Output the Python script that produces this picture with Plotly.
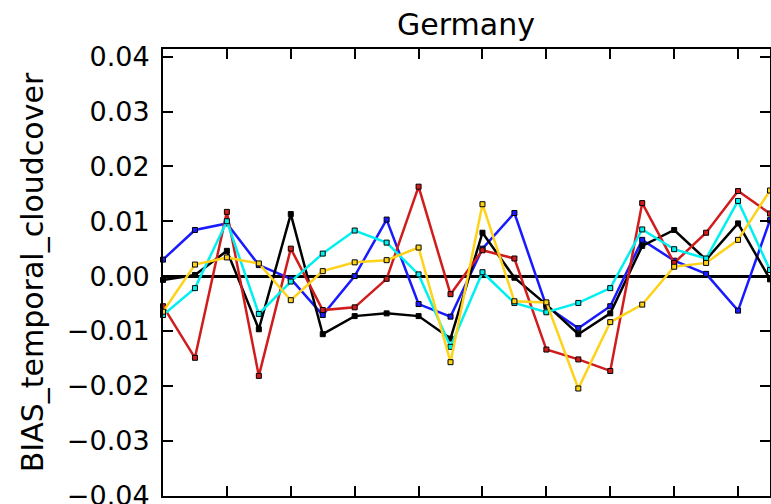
import plotly.graph_objects as go

# Time-step index along the x axis
steps = list(range(20))

# Bias of temporal cloud cover per run
bias_blue = [0.0030, 0.0084, 0.0096, 0.0020, -0.0005, -0.0071, 0.0000, 0.0103, -0.0051, -0.0074,
             0.0050, 0.0115, -0.0055, -0.0095, -0.0055, 0.0066, 0.0028, 0.0004, -0.0063, 0.0102]
bias_black = [-0.0007, 0.0002, 0.0046, -0.0097, 0.0113, -0.0106, -0.0073, -0.0068, -0.0073, -0.0114,
              0.0079, -0.0003, -0.0052, -0.0106, -0.0068, 0.0055, 0.0084, 0.0030, 0.0096, -0.0006]
bias_red = [-0.0055, -0.0149, 0.0117, -0.0182, 0.0050, -0.0062, -0.0057, -0.0005, 0.0163, -0.0033,
            0.0047, 0.0032, -0.0134, -0.0152, -0.0173, 0.0133, 0.0024, 0.0079, 0.0155, 0.0114]
bias_cyan = [-0.0071, -0.0022, 0.0100, -0.0069, -0.0010, 0.0041, 0.0083, 0.0061, 0.0003, -0.0129,
             0.0007, -0.0049, -0.0066, -0.0049, -0.0022, 0.0085, 0.0049, 0.0032, 0.0137, 0.0011]
bias_yellow = [-0.0065, 0.0021, 0.0034, 0.0023, -0.0044, 0.0009, 0.0025, 0.0029, 0.0052, -0.0157,
               0.0131, -0.0046, -0.0048, -0.0205, -0.0084, -0.0052, 0.0017, 0.0024, 0.0066, 0.0156]

series = [
    (bias_blue, "#1a1aff"),
    (bias_black, "#000000"),
    (bias_red, "#d01c1c"),
    (bias_cyan, "#00f0f0"),
    (bias_yellow, "#ffd21a"),
]

y_ticks = [-0.04, -0.03, -0.02, -0.01, 0.0, 0.01, 0.02, 0.03, 0.04]
y_tick_text = ["\u22120.04", "\u22120.03", "\u22120.02", "\u22120.01", "0.00",
               "0.01", "0.02", "0.03", "0.04"]

fig = go.Figure()
for values, color in series:
    fig.add_trace(go.Scatter(
        x=steps, y=values, mode="lines+markers",
        line=dict(color=color, width=2.5),
        marker=dict(symbol="square", size=5, color=color,
                    line=dict(color="#000000", width=1)),
        cliponaxis=False, showlegend=False,
    ))

fig.update_layout(
    width=771, height=504,
    margin=dict(l=163, r=1, t=49, b=8, autoexpand=False),
    paper_bgcolor="white", plot_bgcolor="white",
    font=dict(family="DejaVu Sans", color="#000000"),
    title=dict(text="Germany", x=0.6045, xanchor="center", y=0.952, yanchor="middle",
               font=dict(size=30, family="DejaVu Sans")),
)
fig.update_xaxes(
    range=[0, 19], tickvals=list(range(0, 20, 2)), showticklabels=False,
    ticks="inside", ticklen=10, tickwidth=1.5, tickcolor="#000000",
    showline=True, linecolor="#000000", linewidth=2, mirror="ticks",
    showgrid=False, zeroline=False, automargin=False,
)
fig.update_yaxes(
    range=[-0.0401, 0.0414], tickvals=y_ticks, ticktext=y_tick_text,
    ticks="inside", ticklen=10, tickwidth=1.5, tickcolor="#000000",
    tickfont=dict(size=27, family="DejaVu Sans"), ticklabelstandoff=6,
    ticklabeloverflow="allow", automargin=False,
    showline=True, linecolor="#000000", linewidth=2, mirror="ticks",
    showgrid=False, zeroline=True, zerolinecolor="#000000", zerolinewidth=2.5,
    title=dict(text="BIAS_temporal_cloudcover", font=dict(size=30, family="DejaVu Sans"),
               standoff=14),
)

fig.write_html("out.html")
